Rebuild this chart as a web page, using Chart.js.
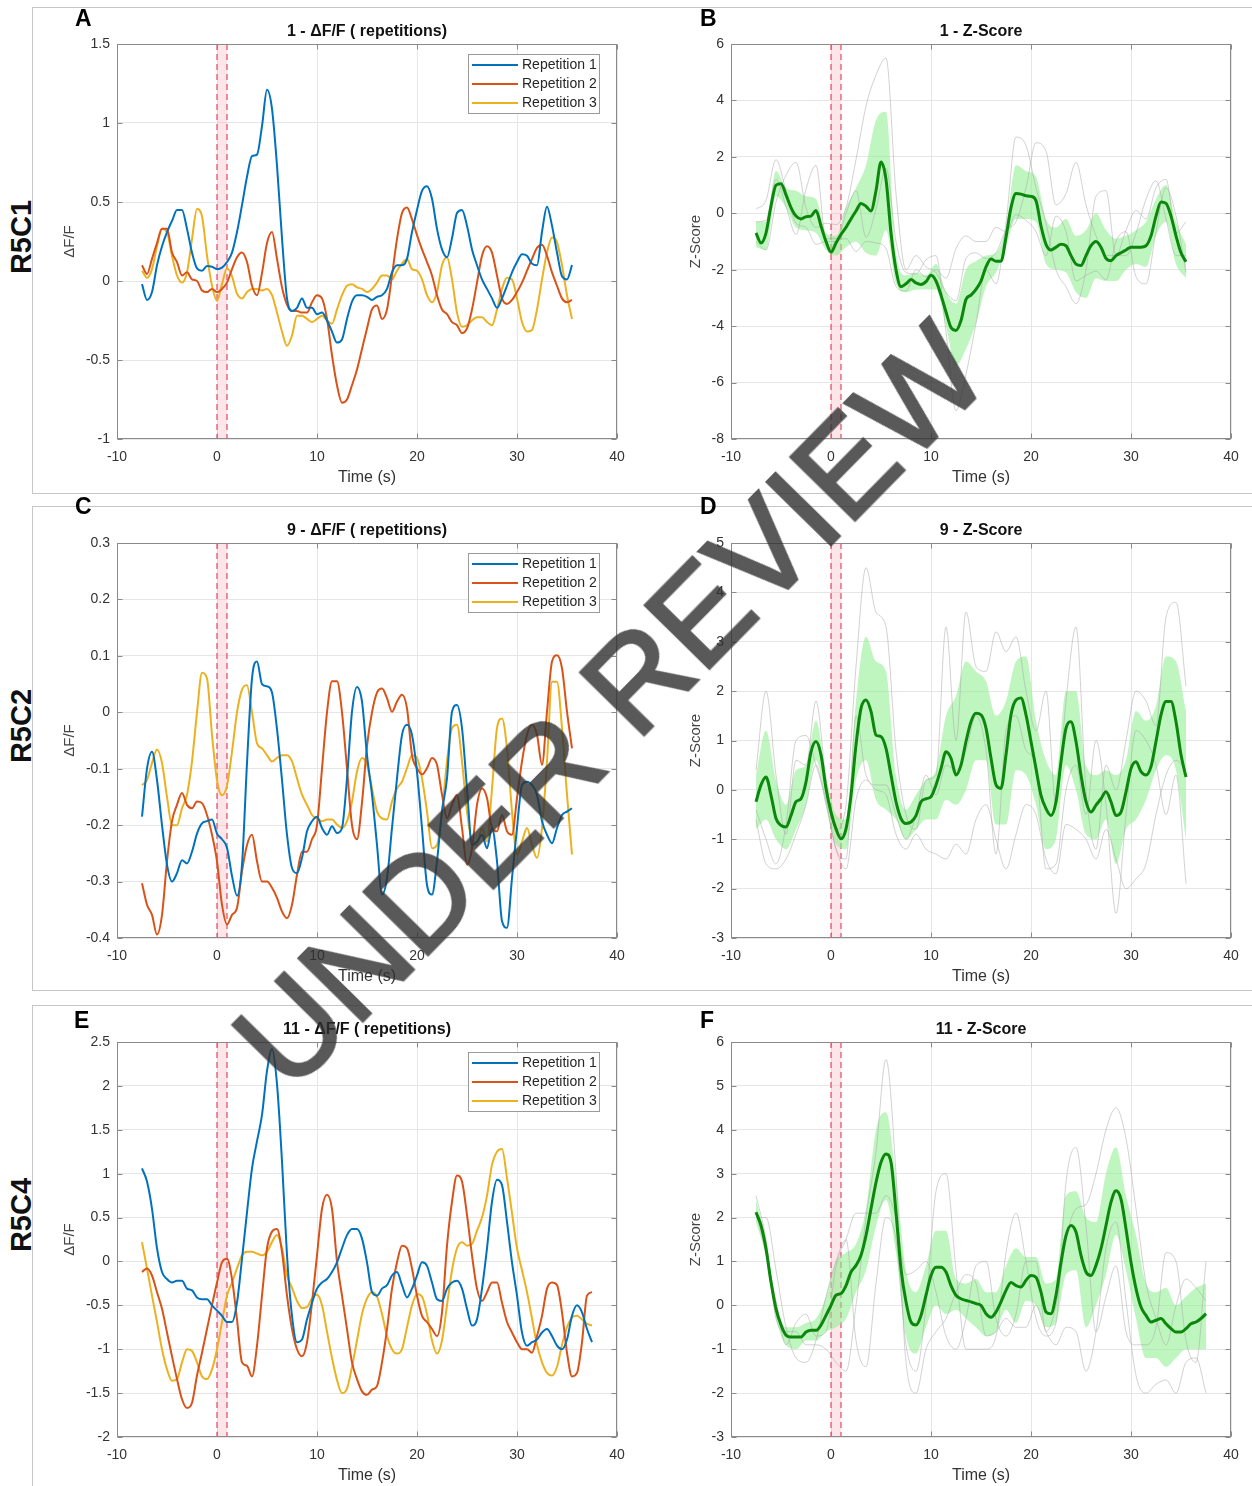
<!DOCTYPE html>
<html><head><meta charset="utf-8">
<script src="https://cdn.jsdelivr.net/npm/chart.js@4.4.1/dist/chart.umd.min.js"></script>
<style>
html,body{margin:0;padding:0;background:#fff;}
body{width:1252px;height:1486px;position:relative;overflow:hidden;font-family:'Liberation Sans',Arial,sans-serif;}
.frame{position:absolute;border:1px solid #c6c6c6;box-sizing:border-box;z-index:0;}
.letter{position:absolute;font-weight:bold;font-size:23px;line-height:23px;color:#000;z-index:3;}
.rowlab{position:absolute;font-weight:bold;font-size:29px;line-height:29px;color:#111;transform:translate(-50%,-50%) rotate(-90deg);white-space:nowrap;z-index:3;}
#wm{position:absolute;left:610px;top:706px;transform:translate(-50%,-50%) rotate(-45.5deg);font-weight:normal;font-size:129px;line-height:129px;color:#303030;-webkit-text-stroke:3px #303030;opacity:0.8;white-space:nowrap;pointer-events:none;z-index:10;}
canvas{position:absolute;z-index:2;}
</style></head><body>
<div class="frame" style="left:32px;top:7px;width:1300px;height:487px"></div>
<div class="frame" style="left:32px;top:506px;width:1300px;height:485px"></div>
<div class="frame" style="left:32px;top:1005px;width:1300px;height:600px"></div>
<div class="rowlab" style="left:21px;top:237px">R5C1</div>
<div class="rowlab" style="left:21px;top:726px">R5C2</div>
<div class="rowlab" style="left:21px;top:1215px">R5C4</div>
<div class="letter" style="left:75px;top:7px">A</div>
<div class="letter" style="left:700px;top:7px">B</div>
<div class="letter" style="left:75px;top:495px">C</div>
<div class="letter" style="left:700px;top:495px">D</div>
<div class="letter" style="left:74px;top:1009px">E</div>
<div class="letter" style="left:700px;top:1009px">F</div>
<div id="wm">UNDER REVIEW</div>
<script>
// ---------- time grids (s) ----------
const T05 = [-7.5,-7,-6.5,-6,-5.5,-5,-4.5,-4,-3.5,-3,-2.5,-2,-1.5,-1,-0.5,0,0.5,1,1.5,2,2.5,3,3.5,4,4.5,5,5.5,6,6.5,7,7.5,8,8.5,9,9.5,10,10.5,11,11.5,12,12.5,13,13.5,14,14.5,15,15.5,16,16.5,17,17.5,18,18.5,19,19.5,20,20.5,21,21.5,22,22.5,23,23.5,24,24.5,25,25.5,26,26.5,27,27.5,28,28.5,29,29.5,30,30.5,31,31.5,32,32.5,33,33.5,34,34.5,35,35.5];
const T05E = [-7.5,-7,-6.5,-6,-5.5,-5,-4.5,-4,-3.5,-3,-2.5,-2,-1.5,-1,-0.5,0,0.5,1,1.5,2,2.5,3,3.5,4,4.5,5,5.5,6,6.5,7,7.5,8,8.5,9,9.5,10,10.5,11,11.5,12,12.5,13,13.5,14,14.5,15,15.5,16,16.5,17,17.5,18,18.5,19,19.5,20,20.5,21,21.5,22,22.5,23,23.5,24,24.5,25,25.5,26,26.5,27,27.5,28,28.5,29,29.5,30,30.5,31,31.5,32,32.5,33,33.5,34,34.5,35,35.5,36,36.5,37,37.5];
const T1 = [-7.5,-6.5,-5.5,-4.5,-3.5,-2.5,-1.5,-0.5,0.5,1.5,2.5,3.5,4.5,5.5,6.5,7.5,8.5,9.5,10.5,11.5,12.5,13.5,14.5,15.5,16.5,17.5,18.5,19.5,20.5,21.5,22.5,23.5,24.5,25.5,26.5,27.5,28.5,29.5,30.5,31.5,32.5,33.5,34.5,35.5];
const T1E = [-7.5,-6.5,-5.5,-4.5,-3.5,-2.5,-1.5,-0.5,0.5,1.5,2.5,3.5,4.5,5.5,6.5,7.5,8.5,9.5,10.5,11.5,12.5,13.5,14.5,15.5,16.5,17.5,18.5,19.5,20.5,21.5,22.5,23.5,24.5,25.5,26.5,27.5,28.5,29.5,30.5,31.5,32.5,33.5,34.5,35.5,36.5,37.5];

// ---------- tick labels ----------
const xTicks = [-10,0,10,20,30,40];
const aYTicks = [-1,-0.5,0,0.5,1,1.5];
const bYTicks = [-8,-6,-4,-2,0,2,4,6];
const cYTicks = [-0.4,-0.3,-0.2,-0.1,0,0.1,0.2,0.3];
const dYTicks = [-3,-2,-1,0,1,2,3,4,5];
const eYTicks = [-2,-1.5,-1,-0.5,0,0.5,1,1.5,2,2.5];
const fYTicks = [-3,-2,-1,0,1,2,3,4,5,6];
const stimWindow = [0,1];
const repLabels = ['Repetition 1','Repetition 2','Repetition 3'];

// ---------- Panel A : 1 - dF/F ----------
const aRep1 = [-0.02,-0.12,-0.07,0.10,0.22,0.31,0.38,0.45,0.45,0.33,
 0.18,0.08,0.065,0.095,0.09,0.075,0.085,0.12,0.18,0.31,
 0.48,0.66,0.79,0.80,0.98,1.21,1.09,0.73,0.27,-0.11,
 -0.19,-0.17,-0.11,-0.17,-0.17,-0.21,-0.20,-0.25,-0.32,-0.39,
 -0.37,-0.24,-0.13,-0.09,-0.09,-0.10,-0.12,-0.10,-0.09,-0.05,
 0.055,0.10,0.10,0.14,0.31,0.45,0.57,0.60,0.52,0.33,
 0.20,0.15,0.27,0.43,0.45,0.35,0.20,0.10,0.01,-0.05,
 -0.11,-0.17,-0.11,-0.03,0.055,0.12,0.17,0.16,0.11,0.10,
 0.31,0.47,0.35,0.18,0.03,0.01,0.10];
const aRep2 = [0.10,0.045,0.14,0.24,0.33,0.33,0.18,0.12,0.035,0.055,
 0.01,0.00,-0.06,-0.07,-0.05,-0.07,-0.05,-0.01,0.075,0.15,
 0.18,0.12,-0.03,-0.09,0.05,0.24,0.31,0.14,-0.04,-0.15,
 -0.19,-0.19,-0.20,-0.20,-0.135,-0.09,-0.11,-0.24,-0.47,-0.66,
 -0.77,-0.75,-0.66,-0.56,-0.43,-0.30,-0.18,-0.155,-0.24,-0.18,
 0.035,0.265,0.43,0.465,0.39,0.29,0.20,0.12,0.035,-0.09,
 -0.18,-0.21,-0.26,-0.28,-0.33,-0.30,-0.18,-0.01,0.16,0.22,
 0.18,0.035,-0.11,-0.145,-0.12,-0.07,-0.01,0.065,0.14,0.21,
 0.23,0.16,0.055,-0.03,-0.11,-0.135,-0.12];
const aRep3 = [0.065,0.02,0.075,0.22,0.33,0.31,0.16,0.035,-0.01,0.055,
 0.265,0.455,0.41,0.16,-0.03,-0.125,-0.02,0.08,0.03,-0.08,
 -0.11,-0.07,-0.05,-0.05,-0.06,-0.05,-0.09,-0.20,-0.32,-0.41,
 -0.345,-0.22,-0.22,-0.24,-0.26,-0.24,-0.22,-0.25,-0.27,-0.18,
 -0.09,-0.03,-0.02,-0.04,-0.05,-0.07,-0.05,-0.01,0.035,0.035,
 0.01,0.065,0.11,0.14,0.075,0.065,0.01,-0.09,-0.135,-0.07,
 0.10,0.15,0.01,-0.20,-0.29,-0.28,-0.25,-0.23,-0.23,-0.26,
 -0.28,-0.18,-0.05,0.02,0.01,-0.11,-0.26,-0.32,-0.31,-0.18,
 0.01,0.18,0.275,0.245,0.10,-0.09,-0.24];

// ---------- Panel B : 1 - Z-Score ----------
const bMean = [-0.7,-1.05,-0.7,0.26,1.0,1.05,0.65,0.2,-0.1,-0.2,
 -0.12,-0.1,0.1,-0.45,-1.0,-1.38,-1.05,-0.75,-0.5,-0.2,
 0.08,0.35,0.25,0.08,0.8,1.82,1.2,-0.7,-2.0,-2.6,
 -2.5,-2.35,-2.47,-2.52,-2.42,-2.2,-2.4,-2.9,-3.5,-4.05,
 -4.15,-3.8,-3.05,-2.9,-2.7,-2.4,-1.9,-1.62,-1.7,-1.7,
 -0.85,0.2,0.7,0.68,0.62,0.6,0.45,-0.45,-1.1,-1.3,
 -1.2,-1.1,-1.15,-1.5,-1.8,-1.85,-1.5,-1.15,-1.0,-1.2,
 -1.6,-1.68,-1.5,-1.4,-1.3,-1.2,-1.2,-1.2,-1.15,-0.8,
 -0.1,0.4,0.35,-0.1,-0.8,-1.4,-1.72];
const bUpper = [-0.3,-0.3,1.5,0.9,0.8,0.6,0.5,-0.7,-0.8,0.2,
 0.9,1.7,3.3,3.6,-1.4,-2.2,-2.1,-2.2,-1.8,-2.8,
 -3.2,-2.0,-1.7,-1.5,-1.4,-0.5,1.7,1.5,1.3,-0.2,
 -0.5,-0.2,-0.8,-0.6,0.0,-0.6,-0.9,-0.8,-0.6,-0.3,
 0.5,1.0,-0.3,-1.1];
const bLower = [-1.2,-1.3,0.6,0.2,-0.5,-0.6,-0.7,-1.3,-1.5,-1.2,
 -1.0,-1.4,-1.5,-0.6,-2.5,-2.8,-2.7,-2.7,-2.7,-4.0,
 -5.4,-4.8,-3.9,-2.6,-2.1,-1.2,-0.2,-0.2,-0.3,-1.8,
 -2.0,-2.1,-2.8,-3.0,-2.3,-2.4,-2.4,-2.0,-1.8,-1.9,
 -0.8,-0.3,-1.8,-2.3];
const bTrace1 = [-1.0,-1.3,0.4,1.35,1.8,0.2,-0.5,-0.35,-0.4,0.2,
 1.9,3.8,4.9,5.5,0.7,-2.0,-1.5,-1.9,-2.1,-2.8,
 -3.1,-1.6,-1.4,-1.6,-1.4,-0.6,-0.3,0.9,2.5,2.2,
 0.3,0.7,1.8,0.3,-0.8,-1.5,-1.5,-0.6,0.1,-0.2,
 0.9,1.2,-0.7,-0.3];
const bTrace2 = [0.15,0.46,1.9,0.8,-0.35,-0.5,-1.1,-1.0,-1.0,0.0,
 0.8,-0.85,0.15,1.6,-1.0,-2.1,-2.15,-1.65,-1.5,-4.2,
 -7.0,-5.7,-3.9,-2.0,-2.5,-0.35,2.7,2.4,0.9,-0.35,
 -2.0,-2.6,-3.2,-2.0,0.6,0.8,-1.5,-1.5,-0.7,0.5,
 1.15,-0.2,-1.5,-1.5];
const bTrace3 = [-0.3,-0.25,1.2,0.25,-0.75,0.85,1.7,-0.9,-0.9,-0.9,
 -1.35,-1.0,-1.05,-1.25,-2.6,-2.75,-2.0,-2.25,-2.0,-2.3,
 -1.25,-0.8,-1.0,-1.0,-0.5,-0.65,-0.05,-0.25,-0.65,-1.5,
 -0.1,-0.65,-2.4,-2.2,-2.05,-2.35,-1.0,-0.65,-2.25,-2.5,
 -0.65,0.9,-0.1,-2.1];

// ---------- Panel C : 9 - dF/F ----------
const cRep1 = [-0.185,-0.10,-0.07,-0.12,-0.2,-0.27,-0.30,-0.285,-0.262,-0.268,
 -0.247,-0.215,-0.197,-0.193,-0.19,-0.215,-0.225,-0.24,-0.29,-0.325,
 -0.27,-0.09,0.06,0.09,0.05,0.046,0.035,-0.03,-0.12,-0.217,
 -0.276,-0.285,-0.258,-0.211,-0.193,-0.185,-0.205,-0.217,-0.202,-0.214,
 -0.205,-0.117,0.001,0.045,0.019,-0.076,-0.146,-0.235,-0.323,-0.294,
 -0.205,-0.117,-0.04,-0.022,-0.04,-0.106,-0.205,-0.306,-0.323,-0.264,
 -0.176,-0.117,0.001,0.013,-0.028,-0.135,-0.235,-0.229,-0.217,-0.241,
 -0.205,-0.264,-0.370,-0.382,-0.294,-0.205,-0.129,-0.123,-0.129,-0.146,
 -0.193,-0.217,-0.232,-0.205,-0.182,-0.176,-0.170];
const cRep2 = [-0.303,-0.341,-0.359,-0.394,-0.359,-0.264,-0.193,-0.164,-0.143,-0.164,
 -0.170,-0.158,-0.161,-0.182,-0.217,-0.264,-0.341,-0.376,-0.359,-0.347,
 -0.282,-0.235,-0.217,-0.264,-0.300,-0.300,-0.311,-0.329,-0.353,-0.365,
 -0.341,-0.288,-0.247,-0.247,-0.225,-0.2,-0.1,0.0,0.055,0.055,
 0.0,-0.1,-0.2,-0.225,-0.16,-0.06,0.0,0.035,0.042,0.025,
 0.001,0.019,0.031,0.007,-0.076,-0.099,-0.11,-0.099,-0.081,-0.093,
 -0.146,-0.188,-0.164,-0.146,-0.205,-0.270,-0.241,-0.164,-0.135,-0.152,
 -0.205,-0.211,-0.182,-0.211,-0.217,-0.152,-0.087,-0.04,-0.022,-0.04,
 -0.093,0.001,0.09,0.101,0.078,0.001,-0.064];
const cRep3 = [-0.129,-0.12,-0.09,-0.066,-0.09,-0.15,-0.2,-0.2,-0.17,-0.146,
 -0.087,0.0,0.07,0.06,-0.04,-0.12,-0.147,-0.13,-0.07,0.0,
 0.04,0.048,0.0,-0.055,-0.064,-0.076,-0.087,-0.081,-0.076,-0.076,
 -0.087,-0.117,-0.146,-0.164,-0.182,-0.188,-0.193,-0.19,-0.19,-0.199,
 -0.205,-0.193,-0.158,-0.105,-0.081,-0.093,-0.135,-0.176,-0.188,-0.19,
 -0.158,-0.135,-0.123,-0.099,-0.076,-0.081,-0.117,-0.176,-0.241,-0.235,
 -0.176,-0.087,-0.028,-0.022,-0.087,-0.176,-0.229,-0.235,-0.205,-0.229,
 -0.135,-0.028,-0.011,-0.064,-0.176,-0.252,-0.229,-0.205,-0.235,-0.258,
 -0.205,-0.087,0.054,0.054,-0.028,-0.146,-0.252];

// ---------- Panel D : 9 - Z-Score ----------
const dMean = [-0.24,0.1,0.26,-0.11,-0.58,-0.72,-0.75,-0.52,-0.24,-0.18,
 0.16,0.77,0.98,0.71,0.03,-0.45,-0.79,-0.99,-0.79,-0.11,
 0.91,1.65,1.82,1.59,1.11,1.08,0.84,0.3,-0.24,-0.58,
 -0.68,-0.65,-0.52,-0.24,-0.18,-0.14,0.1,0.43,0.77,0.64,
 0.3,0.5,0.98,1.38,1.55,1.52,1.25,0.64,0.1,0.03,
 0.71,1.52,1.82,1.86,1.52,0.98,0.43,-0.11,-0.38,-0.52,
 -0.24,0.57,1.25,1.38,0.98,0.3,-0.24,-0.45,-0.31,-0.18,
 -0.04,-0.24,-0.52,-0.45,-0.04,0.43,0.57,0.37,0.3,0.47,
 0.98,1.52,1.79,1.79,1.38,0.71,0.26];
const dUpper = [0.3,1.2,0.2,-0.3,0.4,0.5,1.4,0.3,-0.5,-0.6,
 1.8,3.1,2.6,2.4,0.3,-0.4,-0.1,0.2,0.4,1.5,
 1.9,2.6,2.4,2.2,1.5,1.8,2.6,2.7,1.4,0.6,
 0.3,2.0,2.0,0.5,0.3,0.4,0.3,0.6,1.6,1.4,
 1.7,2.7,2.6,1.6];
const dLower = [-0.8,-0.6,-1.0,-1.2,-0.8,-0.3,0.6,-0.3,-1.1,-1.2,
 0.2,0.6,-0.2,-0.4,-0.6,-1.0,-0.8,-0.6,-0.6,-0.2,
 -0.3,0.0,0.6,0.6,-0.7,-0.7,0.4,0.3,-0.3,-1.2,
 -1.0,0.5,0.0,-0.9,-1.0,-0.6,-1.5,-0.8,-0.6,-0.2,
 0.4,0.7,0.4,-1.0];
const dTrace1 = [0.4,2.0,0.3,-0.9,0.6,0.5,1.8,0.2,-0.8,-0.3,
 2.5,4.5,3.6,3.3,0.8,-0.5,-0.8,0.2,0.3,3.3,
 1.0,3.6,2.5,2.4,3.2,2.8,3.1,2.0,1.2,2.0,
 -0.3,1.8,3.3,0.0,-1.2,0.5,0.0,1.0,2.0,1.8,
 1.3,3.5,3.8,2.1];
const dTrace2 = [-0.4,-1.0,-1.5,-0.7,1.0,1.1,0.5,-0.2,-1.2,-1.4,
 1.5,0.3,0.1,0.1,-0.5,-1.0,-0.5,0.3,-0.1,0.5,
 0.4,0.8,1.5,0.8,-1.3,1.2,1.5,0.8,0.5,-1.6,
 -1.5,0.0,0.5,-0.5,1.0,-0.3,-2.5,-0.5,1.2,1.0,
 0.5,-0.5,0.3,-1.9];
const dTrace3 = [-0.6,-1.5,-1.6,-1.4,-0.9,-0.3,0.5,-0.3,-1.2,-1.6,
 -0.2,0.2,0.0,-0.1,-0.9,-1.2,-0.9,-1.2,-1.3,-1.4,
 -1.1,-1.3,-0.6,-0.3,-1.0,-1.6,-0.9,-0.3,-0.5,-1.4,
 -1.7,-0.7,-0.8,-1.0,-1.4,-0.8,-1.4,-2.0,-1.8,-1.5,
 -0.5,0.3,0.6,0.4];

// ---------- Panel E : 11 - dF/F ----------
const eRep1 = [1.06,0.91,0.60,0.15,-0.12,-0.20,-0.24,-0.22,-0.22,-0.31,
 -0.33,-0.41,-0.43,-0.43,-0.50,-0.56,-0.62,-0.69,-0.69,-0.47,
 0.03,0.56,1.06,1.37,1.67,2.17,2.42,2.02,1.14,0.07,
 -0.62,-0.92,-0.89,-0.66,-0.47,-0.31,-0.24,-0.20,-0.12,-0.01,
 0.15,0.30,0.37,0.37,0.26,-0.01,-0.35,-0.39,-0.31,-0.27,
 -0.16,-0.12,-0.27,-0.41,-0.31,-0.16,-0.01,-0.05,-0.24,-0.43,
 -0.45,-0.31,-0.24,-0.22,-0.31,-0.54,-0.73,-0.66,-0.31,0.15,
 0.68,0.93,0.87,0.45,-0.01,-0.39,-0.81,-0.96,-0.92,-0.89,
 -0.81,-0.77,-0.85,-0.96,-1.0,-0.89,-0.62,-0.50,-0.58,-0.77,-0.92];
const eRep2 = [-0.12,-0.08,-0.16,-0.35,-0.54,-0.81,-1.08,-1.34,-1.57,-1.67,
 -1.61,-1.30,-1.04,-0.77,-0.50,-0.24,-0.01,0.03,-0.20,-0.66,
 -1.15,-1.19,-1.31,-0.96,-0.39,0.15,0.34,0.37,0.11,-0.39,
 -0.77,-1.00,-1.08,-0.92,-0.47,0.07,0.60,0.76,0.60,0.0,
 -0.39,-0.77,-1.15,-1.34,-1.48,-1.52,-1.46,-1.42,-1.15,-0.77,
 -0.31,-0.01,0.18,0.15,-0.08,-0.39,-0.62,-0.69,-0.77,-0.85,
 -0.58,0.18,0.68,0.98,0.91,0.53,0.07,-0.31,-0.45,-0.35,
 -0.24,-0.24,-0.47,-0.69,-0.81,-0.92,-1.0,-1.0,-1.04,-0.85,
 -0.62,-0.31,-0.24,-0.27,-0.58,-1.04,-1.31,-1.27,-0.92,-0.39,-0.35];
const eRep3 = [0.22,-0.08,-0.39,-0.69,-1.0,-1.23,-1.36,-1.34,-1.15,-1.0,
 -1.02,-1.15,-1.31,-1.34,-1.23,-1.0,-0.69,-0.39,-0.24,-0.08,
 0.07,0.11,0.11,0.09,0.07,0.11,0.22,0.30,0.15,-0.16,
 -0.3,-0.45,-0.53,-0.52,-0.42,-0.38,-0.5,-0.8,-1.1,-1.35,
 -1.5,-1.45,-1.2,-0.9,-0.6,-0.42,-0.35,-0.4,-0.6,-0.85,
 -1.0,-1.05,-1.0,-0.75,-0.5,-0.37,-0.4,-0.6,-0.9,-1.05,
 -0.9,-0.5,-0.1,0.15,0.22,0.18,0.2,0.35,0.5,0.75,
 1.1,1.25,1.28,0.95,0.55,0.15,-0.1,-0.35,-0.65,-0.95,
 -1.15,-1.27,-1.3,-1.2,-0.95,-0.75,-0.64,-0.62,-0.66,-0.71,-0.73];

// ---------- Panel F : 11 - Z-Score ----------
const fMean = [2.12,1.82,1.29,0.53,-0.08,-0.45,-0.68,-0.72,-0.72,-0.72,
 -0.61,-0.57,-0.57,-0.45,-0.23,0.0,0.23,0.27,0.45,0.76,
 0.91,1.14,1.59,2.2,2.8,3.26,3.45,3.26,2.12,0.83,
 0.08,-0.38,-0.45,-0.23,0.23,0.68,0.87,0.87,0.76,0.45,
 0.23,0.15,0.11,0.08,0.04,0.0,-0.19,-0.27,-0.15,0.08,
 0.34,0.52,0.45,0.42,0.57,0.68,0.64,0.30,-0.15,-0.19,
 0.23,0.98,1.59,1.82,1.67,1.14,0.76,0.68,0.91,1.29,
 1.82,2.35,2.61,2.42,1.74,0.98,0.38,-0.04,-0.23,-0.38,
 -0.34,-0.30,-0.42,-0.53,-0.61,-0.61,-0.53,-0.42,-0.38,-0.30,-0.19];
const fUpper = [2.4,1.5,0.1,-0.5,-0.5,-0.4,-0.3,0.2,1.0,1.2,
 1.4,2.2,4.0,4.4,2.9,0.8,0.3,0.9,1.7,1.7,
 0.6,0.5,0.6,0.3,0.3,0.9,1.3,1.1,1.1,0.5,
 0.6,2.5,2.6,2.0,1.9,3.0,3.6,2.5,1.6,0.5,
 0.3,0.4,0.0,0.2,0.4,0.5];
const fLower = [1.9,1.1,-0.3,-0.9,-1.0,-0.8,-0.8,-0.6,-0.5,-0.3,
 0.3,0.8,1.8,2.4,1.2,-0.7,-1.1,-0.5,0.0,-0.2,
 -0.1,-0.3,-0.5,-0.7,-0.6,-0.1,-0.4,0.1,0.0,-0.5,
 -0.4,0.7,0.8,-0.5,0.0,0.7,1.6,0.8,-0.3,-1.2,
 -1.2,-1.4,-1.2,-1.0,-1.0,-1.0];
const fTrace1 = [2.5,1.5,-0.3,-0.6,-0.6,-0.9,-0.9,-1.0,-1.3,-1.5,
 0.0,2.0,3.5,5.6,3.0,-1.3,-2.0,-1.0,-0.6,-0.3,
 0.3,0.7,0.5,-0.7,-0.6,-0.3,-0.5,-0.5,0.0,-0.6,
 -0.9,-0.5,-0.6,-1.5,-0.6,1.3,1.9,0.1,-1.6,-2.0,
 -1.8,-1.7,-2.0,-1.3,-1.2,-2.0];
const fTrace2 = [2.0,2.0,0.8,-0.5,-1.2,-1.3,-0.8,0.2,1.0,1.5,
 -0.8,-1.4,0.5,2.0,1.5,-0.9,-1.5,0.0,2.6,3.0,
 0.8,-1.0,-1.0,-1.0,-0.7,1.2,2.1,1.0,-0.3,-0.7,
 -0.4,2.8,3.6,1.8,-0.6,0.2,0.9,-0.6,-0.9,-0.9,
 -0.5,1.2,1.0,-0.8,-1.3,1.0];
const fTrace3 = [2.1,1.2,0.1,-0.9,-0.4,-0.2,-0.7,-0.6,0.9,1.5,
 2.1,2.1,2.1,2.5,2.0,0.7,0.8,1.0,0.3,-0.7,
 -1.0,-0.3,0.9,1.0,-0.3,-0.7,-0.2,1.0,1.0,-0.6,
 0.0,1.5,2.2,2.3,3.0,4.0,4.5,3.8,2.2,0.5,
 -0.3,-0.9,0.0,0.6,0.4,0.1];

// ---------- styles ----------
const BLUE = '#0072BD', ORANGE = '#D95319', YELLOW = '#EDB120';
const GREEN = '#0b870b', BAND = 'rgba(144,238,144,0.58)', GRAY = 'rgba(165,165,165,0.5)';
const FONT = "'Liberation Sans', Arial, Helvetica, sans-serif";
Chart.defaults.font.family = FONT;

function series(label, T, V, color, width, order, extra) {
  return Object.assign({
    label, data: T.map((t, i) => ({x: t, y: V[i]})),
    borderColor: color, backgroundColor: color, borderWidth: width,
    pointRadius: 0, pointHoverRadius: 0, cubicInterpolationMode: 'monotone',
    fill: false, order
  }, extra || {});
}
function repSets(T, r1, r2, r3) {
  return [
    series(repLabels[0], T, r1, BLUE, 2, 0, {inLegend: true}),
    series(repLabels[1], T, r2, ORANGE, 2, 1, {inLegend: true}),
    series(repLabels[2], T, r3, YELLOW, 2, 2, {inLegend: true})
  ];
}
function zSets(T, Tc, mean, up, lo, g1, g2, g3) {
  return [
    series('Mean', T, mean, GREEN, 3, 0),
    series('Trace 1', Tc, g1, GRAY, 1, 1),
    series('Trace 2', Tc, g2, GRAY, 1, 1),
    series('Trace 3', Tc, g3, GRAY, 1, 1),
    series('Upper', Tc, up, 'rgba(0,0,0,0)', 0, 2, {fill: '+1', backgroundColor: BAND}),
    series('Lower', Tc, lo, 'rgba(0,0,0,0)', 0, 2)
  ];
}

// ---------- plugins ----------
const stimPlugin = {
  id: 'stim',
  beforeDatasetsDraw(chart) {
    const {ctx, chartArea: ca, scales: {x}} = chart;
    const x0 = x.getPixelForValue(stimWindow[0]), x1 = x.getPixelForValue(stimWindow[1]);
    ctx.save();
    ctx.fillStyle = 'rgba(248,175,190,0.33)';
    ctx.fillRect(x0, ca.top, x1 - x0, ca.bottom - ca.top);
    ctx.strokeStyle = 'rgba(226,72,98,0.85)';
    ctx.lineWidth = 1.4;
    ctx.setLineDash([6, 4]);
    [x0, x1].forEach(px => { ctx.beginPath(); ctx.moveTo(px, ca.top); ctx.lineTo(px, ca.bottom); ctx.stroke(); });
    ctx.restore();
  }
};
const boxPlugin = {
  id: 'mbox',
  afterDatasetsDraw(chart) {
    const {ctx, chartArea: ca, scales: {x, y}} = chart;
    const L = Math.round(ca.left) + 0.5, R = Math.round(ca.right) - 0.5;
    const T = Math.round(ca.top) + 0.5, B = Math.round(ca.bottom) - 0.5;
    ctx.save();
    ctx.strokeStyle = '#8a8a8a'; ctx.lineWidth = 1;
    ctx.strokeRect(L, T, R - L, B - T);
    ctx.beginPath();
    x.ticks.forEach(t => { const p = Math.round(x.getPixelForValue(t.value)) + 0.5;
      ctx.moveTo(p, B); ctx.lineTo(p, B - 5); ctx.moveTo(p, T); ctx.lineTo(p, T + 5); });
    y.ticks.forEach(t => { const p = Math.round(y.getPixelForValue(t.value)) + 0.5;
      ctx.moveTo(L, p); ctx.lineTo(L + 5, p); ctx.moveTo(R, p); ctx.lineTo(R - 5, p); });
    ctx.stroke();
    ctx.restore();
  }
};
const legendPlugin = {
  id: 'repLegend',
  afterDraw(chart) {
    const items = chart.data.datasets.filter(d => d.inLegend);
    if (!items.length) return;
    const {ctx, chartArea: ca} = chart;
    const w = 131, h = 59, x0 = Math.round(ca.right - 18 - w), y0 = Math.round(ca.top + 10);
    ctx.save();
    ctx.fillStyle = '#fff'; ctx.fillRect(x0, y0, w, h);
    ctx.strokeStyle = '#9a9a9a'; ctx.lineWidth = 1; ctx.strokeRect(x0 + 0.5, y0 + 0.5, w, h);
    ctx.font = '14px ' + FONT; ctx.textBaseline = 'middle'; ctx.textAlign = 'left';
    items.forEach((d, i) => {
      const yy = y0 + 11 + i * 19;
      ctx.strokeStyle = d.borderColor; ctx.lineWidth = 2;
      ctx.beginPath(); ctx.moveTo(x0 + 4, yy); ctx.lineTo(x0 + 50, yy); ctx.stroke();
      ctx.fillStyle = '#262626'; ctx.fillText(d.label, x0 + 54, yy + 0.5);
    });
    ctx.restore();
  }
};

// ---------- panels ----------
const panels = [
  {left: 117, top: 44, title: '1 - ΔF/F ( repetitions)', ylab: 'ΔF/F', yt: aYTicks, ypad: 24, ds: repSets(T05, aRep1, aRep2, aRep3)},
  {left: 731, top: 44, title: '1 - Z-Score', ylab: 'Z-Score', yt: bYTicks, ypad: 36, ds: zSets(T05, T1, bMean, bUpper, bLower, bTrace1, bTrace2, bTrace3)},
  {left: 117, top: 543, title: '9 - ΔF/F ( repetitions)', ylab: 'ΔF/F', yt: cYTicks, ypad: 24, ds: repSets(T05, cRep1, cRep2, cRep3)},
  {left: 731, top: 543, title: '9 - Z-Score', ylab: 'Z-Score', yt: dYTicks, ypad: 36, ds: zSets(T05, T1, dMean, dUpper, dLower, dTrace1, dTrace2, dTrace3)},
  {left: 117, top: 1042, title: '11 - ΔF/F ( repetitions)', ylab: 'ΔF/F', yt: eYTicks, ypad: 24, ds: repSets(T05E, eRep1, eRep2, eRep3)},
  {left: 731, top: 1042, title: '11 - Z-Score', ylab: 'Z-Score', yt: fYTicks, ypad: 36, ds: zSets(T05E, T1E, fMean, fUpper, fLower, fTrace1, fTrace2, fTrace3)}
];

panels.forEach(p => {
  const cv = document.createElement('canvas');
  cv.width = 660; cv.height = 490;
  cv.style.left = (p.left - 80) + 'px';
  cv.style.top = (p.top - 40) + 'px';
  cv.style.width = '660px'; cv.style.height = '490px';
  document.body.appendChild(cv);
  new Chart(cv.getContext('2d'), {
    type: 'line',
    data: {datasets: p.ds},
    options: {
      responsive: false, animation: false, events: [],
      layout: {padding: {left: 0, right: 80, top: 0, bottom: 0}},
      plugins: {
        legend: {display: false}, tooltip: {enabled: false},
        title: {display: true, fullSize: false, text: p.title, color: '#111',
          font: {size: 16, weight: 'bold', lineHeight: 1.25}, padding: {top: 18, bottom: 2}}
      },
      scales: {
        x: {
          type: 'linear', min: xTicks[0], max: xTicks[xTicks.length - 1],
          afterFit: s => { s.height = 55; },
          afterBuildTicks: s => { s.ticks = xTicks.map(v => ({value: v})); },
          ticks: {color: '#333', font: {size: 14}, padding: 10, maxRotation: 0, autoSkip: false, callback: v => String(v)},
          grid: {color: '#e6e6e6', drawTicks: false}, border: {display: false},
          title: {display: true, text: 'Time (s)', color: '#333', font: {size: 16}, padding: {top: 0, bottom: 7}}
        },
        y: {
          type: 'linear', min: p.yt[0], max: p.yt[p.yt.length - 1],
          afterFit: s => { s.width = 80; },
          afterBuildTicks: s => { s.ticks = p.yt.map(v => ({value: v})); },
          ticks: {color: '#333', font: {size: 14}, padding: 7, autoSkip: false, callback: v => String(v)},
          grid: {color: '#e6e6e6', drawTicks: false}, border: {display: false},
          title: {display: true, text: p.ylab, color: '#444', font: {size: 15}, padding: {top: p.ypad, bottom: 0}}
        }
      }
    },
    plugins: [stimPlugin, boxPlugin, legendPlugin]
  });
});
</script>
</body></html>
